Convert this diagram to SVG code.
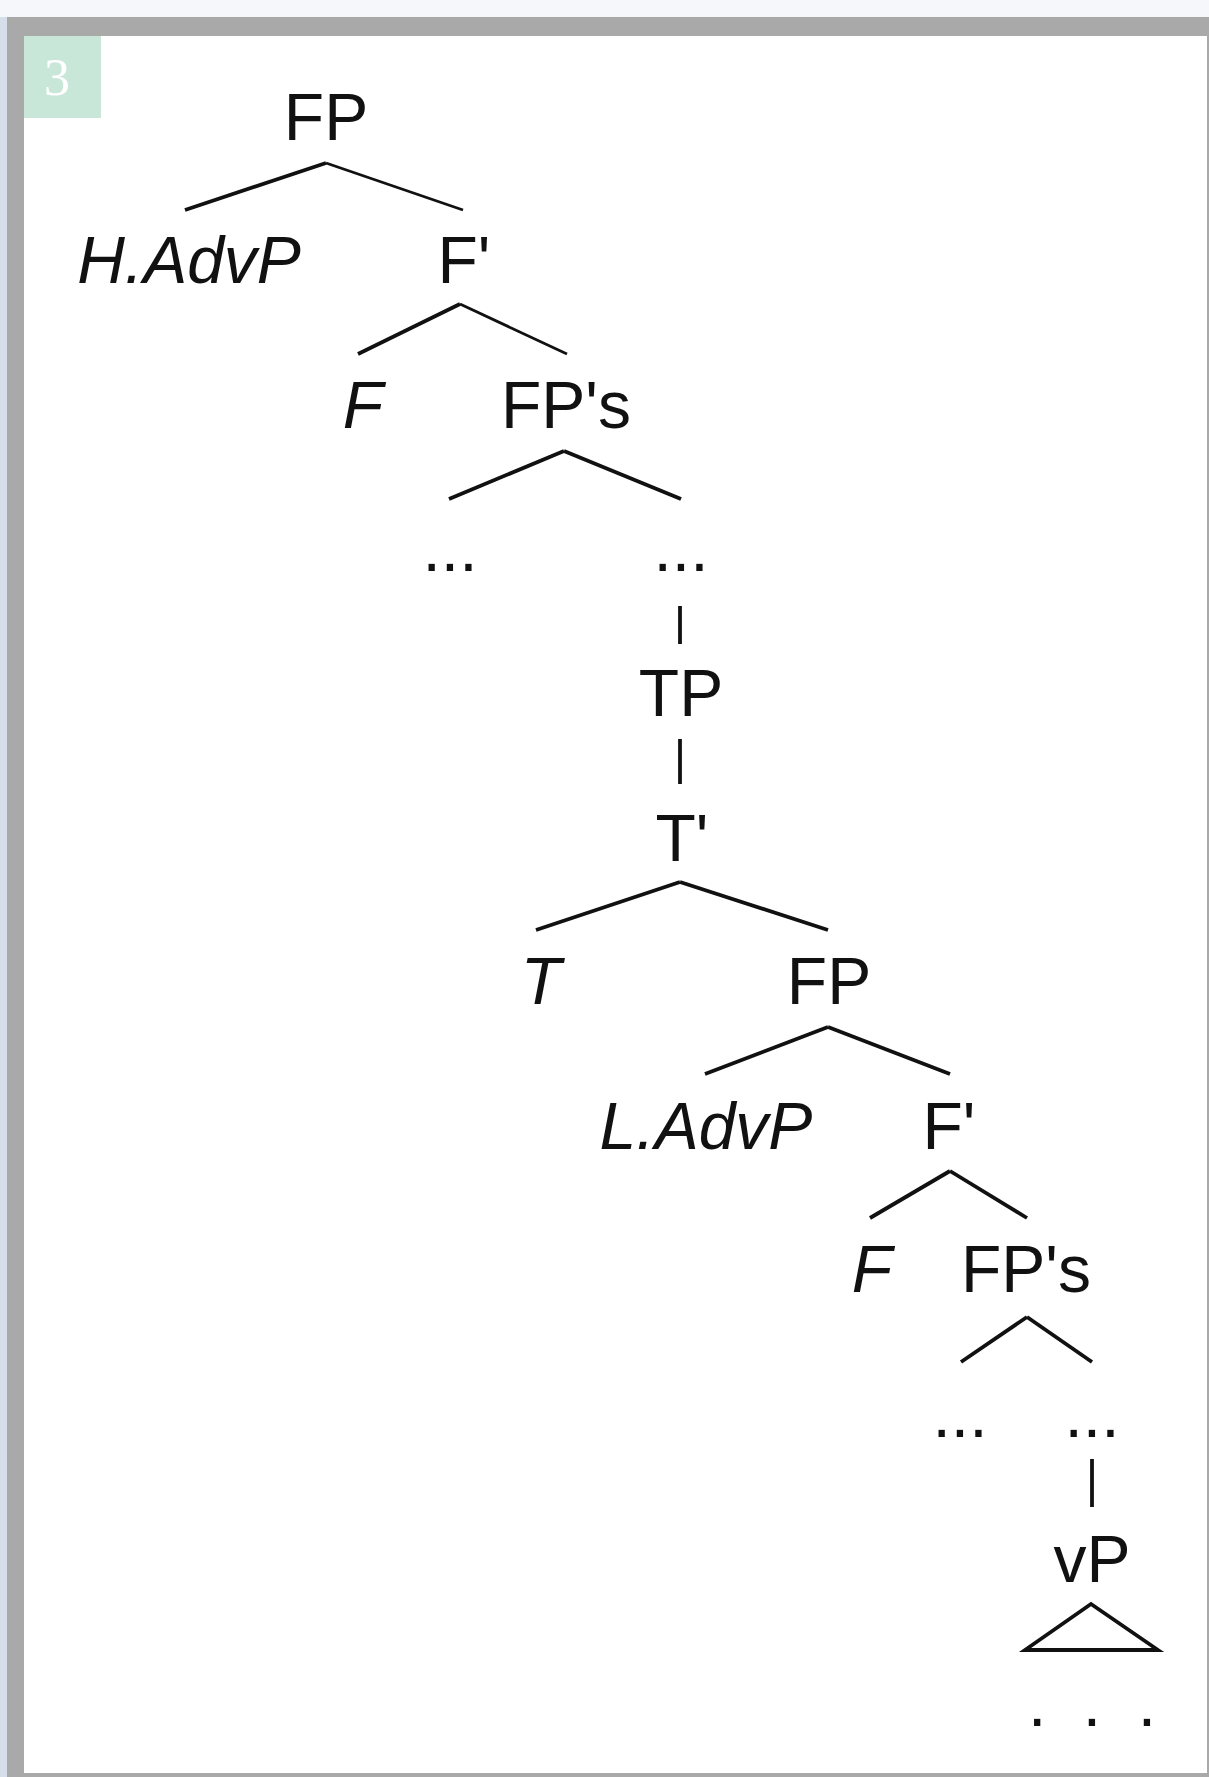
<svg xmlns="http://www.w3.org/2000/svg" width="1209" height="1777" viewBox="0 0 1209 1777">
<style>
.lbl{font-family:"Liberation Sans",Arial,Helvetica,sans-serif;font-size:66px;fill:#111;text-anchor:middle}
.it{font-style:italic}
.br{stroke:#111;stroke-width:3.8;fill:none;stroke-linecap:butt}
.thin{stroke-width:2.8}
</style>
<rect x="0" y="0" width="1209" height="1777" fill="#f5f7fa"/>
<rect x="0" y="17" width="7" height="1760" fill="#d6dfe9"/>
<rect x="7" y="17" width="1202" height="1760" fill="#a9a9a9"/>
<rect x="24" y="36" width="1183" height="1737" fill="#ffffff"/>
<g id="badge">
<rect x="24" y="36" width="77" height="82" fill="#c8e7d8"/>
<text x="57" y="95" font-family="'Liberation Serif','Times New Roman',serif" font-size="52" fill="#ffffff" text-anchor="middle">3</text>
</g>
<g id="connectors">
<line class="br" x1="326" y1="163" x2="185" y2="210"/>
<line class="br thin" x1="326" y1="163" x2="463" y2="210"/>
<line class="br" x1="460" y1="304" x2="358" y2="354"/>
<line class="br thin" x1="460" y1="304" x2="567" y2="354"/>
<line class="br" x1="564" y1="451" x2="449" y2="499"/>
<line class="br" x1="564" y1="451" x2="681" y2="499"/>
<line class="br" x1="680" y1="606" x2="680" y2="644"/>
<line class="br" x1="680" y1="739" x2="680" y2="784"/>
<line class="br" x1="680" y1="882" x2="536" y2="930"/>
<line class="br" x1="680" y1="882" x2="828" y2="930"/>
<line class="br" x1="828" y1="1027" x2="705" y2="1074"/>
<line class="br" x1="828" y1="1027" x2="950" y2="1074"/>
<line class="br" x1="950" y1="1171" x2="870" y2="1218"/>
<line class="br" x1="950" y1="1171" x2="1027" y2="1218"/>
<line class="br" x1="1027" y1="1317" x2="961" y2="1362"/>
<line class="br" x1="1027" y1="1317" x2="1092" y2="1362"/>
<line class="br" x1="1092" y1="1459" x2="1092" y2="1507"/>
<polygon class="br" points="1091,1604 1025,1650 1158,1650"/>
</g>
<g id="n-FP1"><text class="lbl" x="326" y="140">FP</text></g>
<g id="n-HAdvP"><text class="lbl it" x="189" y="283">H.AdvP</text></g>
<g id="n-Fbar1"><text class="lbl" x="464" y="283">F'</text></g>
<g id="n-F1"><text class="lbl it" x="363" y="428">F</text></g>
<g id="n-FPs1"><text class="lbl" x="566" y="428">FP's</text></g>
<g id="n-dots1"><text class="lbl" x="450" y="571">...</text></g>
<g id="n-dots2"><text class="lbl" x="681" y="571">...</text></g>
<g id="n-TP"><text class="lbl" x="681" y="716">TP</text></g>
<g id="n-Tbar"><text class="lbl" x="682" y="861">T'</text></g>
<g id="n-T"><text class="lbl it" x="541" y="1004">T</text></g>
<g id="n-FP2"><text class="lbl" x="829" y="1004">FP</text></g>
<g id="n-LAdvP"><text class="lbl it" x="706" y="1149">L.AdvP</text></g>
<g id="n-Fbar2"><text class="lbl" x="949" y="1149">F'</text></g>
<g id="n-F2"><text class="lbl it" x="872" y="1292">F</text></g>
<g id="n-FPs2"><text class="lbl" x="1026" y="1292">FP's</text></g>
<g id="n-dots3"><text class="lbl" x="960" y="1437">...</text></g>
<g id="n-dots4"><text class="lbl" x="1092" y="1437">...</text></g>
<g id="n-vP"><text class="lbl" x="1092" y="1582">vP</text></g>
<g id="n-dots5"><text class="lbl" x="1028" y="1726" style="text-anchor:start" textLength="128" lengthAdjust="spacing">. . .</text></g>
</svg>
